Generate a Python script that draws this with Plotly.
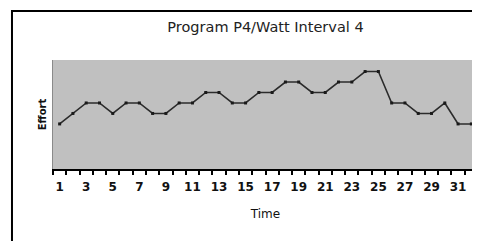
import plotly.graph_objects as go

time = list(range(1, 33))
effort = [1, 2, 3, 3, 2, 3, 3, 2, 2, 3, 3, 4, 4, 3, 3, 4,
          4, 5, 5, 4, 4, 5, 5, 6, 6, 3, 3, 2, 2, 3, 1, 1]
tick_labels = [str(v) for v in range(1, 32, 2)]
title_text = "Program P4/Watt Interval 4"

FONT = "DejaVu Sans, sans-serif"

fig = go.Figure()
fig.add_trace(go.Scatter(
    x=time, y=effort, mode="lines+markers",
    line=dict(color="#2b2b2b", width=1.6),
    marker=dict(symbol="square", size=3, color="#1a1a1a"),
    showlegend=False, hoverinfo="skip",
))

# the page body has an 8px margin, so the figure is 8px smaller and offset
fig.update_layout(
    width=472, height=233,
    margin=dict(l=45, r=2, t=52, b=72, autoexpand=False),
    paper_bgcolor="white",
    plot_bgcolor="#c0c0c0",
    title=dict(text=title_text, x=0.5, xref="paper", xanchor="center",
               y=1 - 19 / 233, yref="container", yanchor="middle",
               font=dict(family=FONT, size=14.5, color="#222")),
    font=dict(family=FONT, color="#111"),
    xaxis=dict(
        range=[0.5, 32.5], tickmode="array", automargin=False,
        tickvals=list(range(1, 32, 2)), ticktext=tick_labels,
        ticks="outside", ticklen=0, tickcolor="black",
        ticklabelstandoff=6,
        tickfont=dict(size=12, family=FONT, color="#111", weight="bold"),
        showgrid=False, zeroline=False,
        showline=True, linecolor="black", linewidth=2,
        minor=dict(tickmode="array",
                   tickvals=[i + 0.5 for i in range(0, 33)],
                   ticks="outside", ticklen=4, tickwidth=1.5,
                   tickcolor="black", showgrid=False),
        title=dict(text="Time", standoff=16,
                   font=dict(size=12, family=FONT, color="#111")),
    ),
    yaxis=dict(
        range=[-3.3, 7.1], showticklabels=False, ticks="", automargin=False,
        showgrid=False, zeroline=False,
        showline=True, linecolor="#8a8a8a", linewidth=1, mirror=True,
        title=dict(text="Effort", standoff=3,
                   font=dict(size=10, family=FONT, color="#111", weight="bold")),
    ),
    shapes=[dict(type="rect", xref="paper", yref="paper",
                 x0=-0.0965, x1=1.2, y0=-0.8, y1=1.4495,
                 line=dict(color="black", width=2), fillcolor="rgba(0,0,0,0)",
                 layer="below")],
)

fig.write_html("out.html")
